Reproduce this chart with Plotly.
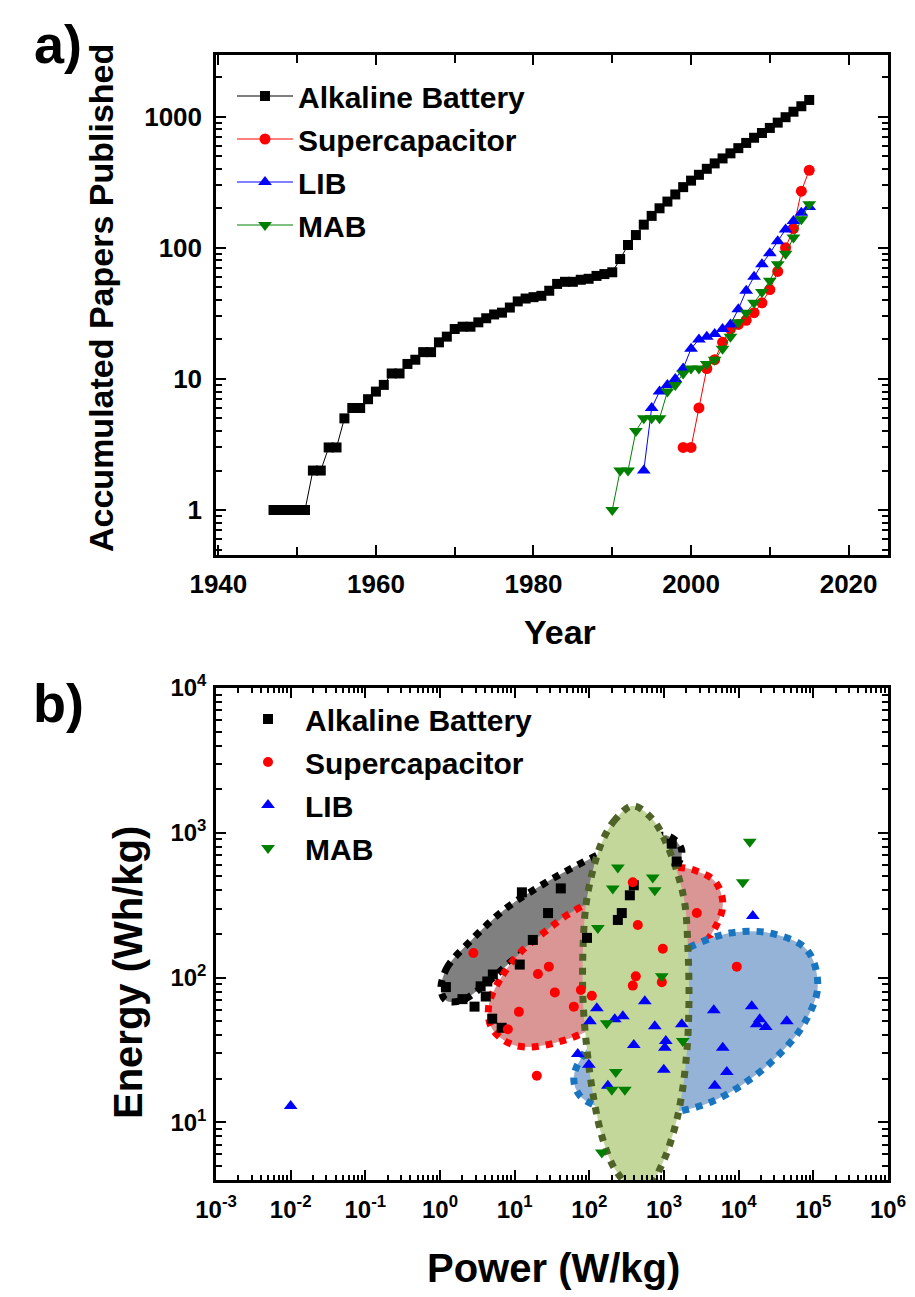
import plotly.graph_objects as go

# ---------------- Panel a: accumulated papers per year ----------------
alk_years = list(range(1947, 2016))
alk_papers = [1, 1, 1, 1, 1, 2, 2, 3, 3, 5,
              6, 6, 7, 8, 9, 11, 11, 13, 14, 16,
              16, 19, 21, 24, 25, 25, 27, 29, 31, 32,
              35, 39, 41, 42, 43, 47, 53, 55, 55, 57,
              58, 61, 63,
              65, 82, 105, 125, 150, 175, 200, 225, 255, 290,
              325, 360, 400, 440, 480, 525, 575, 630, 690, 750,
              820, 900, 990, 1090, 1200, 1340]

sc_years = list(range(1999, 2016))
sc_papers = [3, 3, 6, 12, 14, 19, 24, 26, 28, 32, 38, 48, 66, 100, 140, 270, 390]

lib_years = list(range(1994, 2016))
lib_papers = [2, 6, 8, 9, 10, 12, 17, 20, 21, 22, 24, 26, 34, 47, 60, 75, 91, 112, 138, 160, 185, 205]

mab_years = list(range(1990, 2016))
mab_papers = [1, 2, 2, 4, 5, 5, 5, 8, 9, 11, 12, 12, 13, 14, 17, 21, 27, 32, 38, 46, 56, 75, 90, 120, 165, 215]

year_ticks = [1940, 1960, 1980, 2000, 2020]
year_minor = [1950, 1970, 1990, 2010]
paper_ticks = [1, 10, 100, 1000]
paper_labels = ["1", "10", "100", "1000"]

# ---------------- Panel b: Ragone-type scatter ----------------
alk_power = [1.2, 2.0, 2.9, 3.5, 4.3, 5.1, 4.1, 5.0, 6.7, 11.7, 17.5, 28, 12.5, 41.5, 93, 241, 272, 349, 394, 1270, 1480]
alk_energy = [86, 71, 63, 87, 94, 105, 74, 52, 45, 123, 182, 279, 388, 413, 188, 250, 279, 370, 434, 841, 633]

sc_power = [2.8, 20.5, 28.7, 34.5, 11.4, 8.1, 19.8, 62, 77, 108, 382, 446, 964, 419, 382, 935, 2750, 9440]
sc_energy = [148, 106, 119, 79, 58, 44, 21, 63, 82, 75, 455, 231, 158, 102, 88, 93, 279, 119]

lib_power = [0.01, 15450, 553, 126, 102, 219, 281, 753, 1730, 394, 1057, 1026, 994, 70, 98.5, 177,
             4640, 14970, 19150, 17460, 23070, 44060, 6120, 6930, 4790]
lib_energy = [13, 266, 68.5, 61.4, 50, 51.5, 54, 46.2, 47.7, 34.2, 36.5, 32.7, 23.1, 29.7, 25, 17.9,
              59.4, 63.3, 51.5, 47.7, 45.5, 50, 32.7, 22.3, 17.9]

mab_power = [14090, 11350, 241, 206, 708, 753, 130, 935, 171, 1785, 226, 200, 299, 147]
mab_energy = [867, 455, 576, 413, 492, 401, 220, 102, 48.4, 36.5, 22.3, 16.8, 16.8, 6.2]

# outlines of the shaded regions
alk_region_power = [1.03, 1.24, 2.51, 7.4, 20.5, 60, 188, 553, 1200, 1730, 1270, 299, 55, 11.7, 4.0, 1.96, 1.2, 1.03]
alk_region_energy = [82.7, 117, 177, 297, 420, 575, 765, 925, 940, 754, 532, 353, 231, 144, 89.5, 69.5, 69.5, 82.7]

sc_region_power = [11.7, 6.34, 4.52, 4.8, 7.4, 13.7, 47, 256, 1395, 3855, 6120, 4935, 2834, 1440, 474, 138, 50, 25.4, 11.7]
sc_region_energy = [148, 96.8, 65.3, 46.1, 36.5, 33.2, 37, 55.8, 100, 182, 311, 455, 541, 575, 484, 359, 270, 207, 148]

lib_region_power = [62, 102, 299, 1026, 2432, 7600, 26060, 81600, 114500, 74300, 33400, 12830, 4365, 1530, 474, 152, 74.6, 62]
lib_region_energy = [20.7, 34.8, 70.6, 129, 166, 203, 203, 156, 86.7, 47.6, 28.8, 19.1, 13.9, 11.9, 11.4, 12.5, 15.3, 20.7]

mab_region_power = [384, 221, 152, 112, 90.2, 82.2, 82.2, 93, 115, 152, 221, 372, 610, 940, 1318, 1688,
                    2032, 2161, 2095, 1910, 1540, 1096, 712, 384]
mab_region_energy = [1535, 1230, 896, 556, 318, 156, 70.5, 31.8, 14.4, 7.6, 4.74, 3.56, 3.56, 5.13, 8.27, 14.4,
                     31.8, 70.5, 156, 318, 513, 826, 1230, 1535]

power_ticks = [1e-3, 1e-2, 1e-1, 1, 10, 100, 1e3, 1e4, 1e5, 1e6]
power_labels = ["10<sup>-3</sup>", "10<sup>-2</sup>", "10<sup>-1</sup>", "10<sup>0</sup>", "10<sup>1</sup>",
                "10<sup>2</sup>", "10<sup>3</sup>", "10<sup>4</sup>", "10<sup>5</sup>", "10<sup>6</sup>"]
energy_ticks = [10, 100, 1000, 10000]
energy_labels = ["10<sup>1</sup>", "10<sup>2</sup>", "10<sup>3</sup>", "10<sup>4</sup>"]

# ---------------- figure ----------------
W, H = 915, 1297
FONT = "Liberation Sans, Arial, sans-serif"


def px_x(p):
    return p / W


def px_y(p):
    return 1 - p / H


fig = go.Figure()

# panel a series
series_a = [
    ("Alkaline Battery", alk_years, alk_papers, "black", "square", 10),
    ("Supercapacitor", sc_years, sc_papers, "#ff0000", "circle", 11),
    ("LIB", lib_years, lib_papers, "#0000ff", "triangle-up", 12),
    ("MAB", mab_years, mab_papers, "#008000", "triangle-down", 12),
]
for i, (name, xs, ys, col, sym, sz) in enumerate(series_a):
    fig.add_trace(go.Scatter(
        x=xs, y=ys, mode="lines+markers", name=name,
        line=dict(color=col, width=1),
        marker=dict(symbol=sym, size=sz, color=col, line=dict(width=0)),
        xaxis="x", yaxis="y", legend="legend", legendgroup="a%d" % i))

# panel b shaded regions
regions = [
    (alk_region_power, alk_region_energy, "#808080", "black"),
    (sc_region_power, sc_region_energy, "#da9694", "#ff0000"),
    (lib_region_power, lib_region_energy, "#95b3d7", "#1a75c0"),
    (mab_region_power, mab_region_energy, "#c4d79b", "#4f6228"),
]
for xs, ys, fillc, linec in regions:
    fig.add_trace(go.Scatter(
        x=xs, y=ys, mode="lines", fill="toself", fillcolor=fillc,
        line=dict(color=linec, width=7, dash="7px,7px", shape="spline", smoothing=1.0),
        hoverinfo="skip", showlegend=False, xaxis="x2", yaxis="y2"))

series_b = [
    ("Alkaline Battery", alk_power, alk_energy, "black", "square", 10),
    ("Supercapacitor", sc_power, sc_energy, "#ff0000", "circle", 10),
    ("LIB", lib_power, lib_energy, "#0000ff", "triangle-up", 12),
    ("MAB", mab_power, mab_energy, "#008000", "triangle-down", 12),
]
for i, (name, xs, ys, col, sym, sz) in enumerate(series_b):
    fig.add_trace(go.Scatter(
        x=xs, y=ys, mode="markers", name=name,
        marker=dict(symbol=sym, size=sz, color=col, line=dict(width=0)),
        xaxis="x2", yaxis="y2", legend="legend2", legendgroup="b%d" % i))


def decade_minors(lo, hi):
    out = []
    for k in range(lo, hi + 1):
        for m in range(2, 10):
            out.append(m * 10.0 ** k)
    return out


def axis_style(fs):
    return dict(showline=True, linewidth=2.5, linecolor="black", mirror="allticks",
                ticks="inside", ticklen=10, tickwidth=2, tickcolor="black",
                showgrid=False, zeroline=False, automargin=False,
                tickfont=dict(family=FONT, size=fs, color="black", weight="bold"))


dom_x = [px_x(216), px_x(888)]

fig.update_layout(
    template="none",
    width=W, height=H, paper_bgcolor="white", plot_bgcolor="white",
    margin=dict(l=0, r=0, t=0, b=0, autoexpand=False), showlegend=True,
    xaxis=dict(domain=dom_x, anchor="y", range=[1939.7, 2025],
               tickmode="array", tickvals=year_ticks, ticklabelstandoff=4,
               minor=dict(tickmode="array", tickvals=year_minor, ticks="inside", ticklen=8,
                          tickwidth=2, tickcolor="black", showgrid=False),
               **axis_style(26)),
    yaxis=dict(domain=[px_y(555), px_y(55)], anchor="x", type="log", range=[-0.343, 3.47],
               tickmode="array", tickvals=paper_ticks, ticktext=paper_labels, ticklabelstandoff=6,
               minor=dict(tickmode="array", tickvals=decade_minors(-1, 3), ticks="inside", ticklen=6,
                          tickwidth=2, tickcolor="black", showgrid=False),
               **axis_style(26)),
    xaxis2=dict(domain=dom_x, anchor="y2", type="log", range=[-3, 6],
                tickmode="array", tickvals=power_ticks, ticktext=power_labels, ticklabelstandoff=6,
                minor=dict(tickmode="array", tickvals=decade_minors(-3, 5), ticks="inside", ticklen=5,
                           tickwidth=1.5, tickcolor="black", showgrid=False),
                **axis_style(24)),
    yaxis2=dict(domain=[px_y(1180), px_y(688)], anchor="x2", type="log", range=[0.602, 4],
                tickmode="array", tickvals=energy_ticks, ticktext=energy_labels, ticklabelstandoff=2,
                minor=dict(tickmode="array", tickvals=decade_minors(0, 3), ticks="inside", ticklen=6,
                           tickwidth=2, tickcolor="black", showgrid=False),
                **axis_style(24)),
    legend=dict(x=px_x(232), y=px_y(70), xanchor="left", yanchor="top",
                font=dict(family=FONT, size=30, color="black", weight="bold"),
                itemwidth=56, traceorder="grouped", tracegroupgap=1, bgcolor="rgba(0,0,0,0)",
                itemsizing="trace"),
    legend2=dict(x=px_x(231), y=px_y(693), xanchor="left", yanchor="top",
                 font=dict(family=FONT, size=30, color="black", weight="bold"),
                 itemwidth=64, traceorder="grouped", tracegroupgap=1, bgcolor="rgba(0,0,0,0)",
                 itemsizing="trace"),
)

top_title_font = dict(family=FONT, size=34, color="black", weight="bold")
bot_title_font = dict(family=FONT, size=40, color="black", weight="bold")
label_font = dict(family=FONT, size=54, color="black", weight="bold")
annotations = [
    dict(text="a)", x=px_x(58), y=px_y(44), font=label_font),
    dict(text="b)", x=px_x(58), y=px_y(703), font=label_font),
    dict(text="Year", x=px_x(560), y=px_y(632), font=top_title_font),
    dict(text="Power (W/kg)", x=px_x(553), y=px_y(1268), font=bot_title_font),
    dict(text="Accumulated Papers Published", x=px_x(101), y=px_y(298), textangle=-90, font=top_title_font),
    dict(text="Energy (Wh/kg)", x=px_x(128), y=px_y(973), textangle=-90, font=bot_title_font),
]
for a in annotations:
    a.update(xref="paper", yref="paper", showarrow=False, xanchor="center", yanchor="middle")
fig.update_layout(annotations=annotations)

fig.write_html("out.html", config={"displayModeBar": False},
               post_script="document.body.style.margin='0px';document.body.style.overflow='hidden';")
